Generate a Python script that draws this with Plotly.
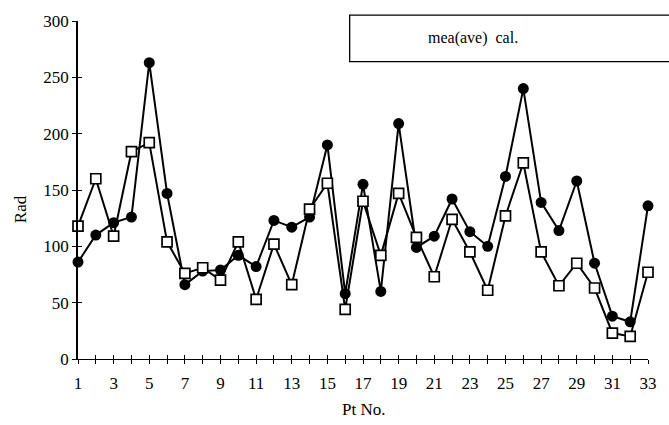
import plotly.graph_objects as go

pt = list(range(1, 34))
mea = [86, 110, 121, 126, 263, 147, 66, 78, 79, 92, 82, 123, 117, 126, 190, 58, 155,
       60, 209, 99, 109, 142, 113, 100, 162, 240, 139, 114, 158, 85, 38, 33, 136]
cal = [118, 160, 109, 184, 192, 104, 76, 81, 70, 104, 53, 102, 66, 133, 156, 44, 140,
       92, 147, 108, 73, 124, 95, 61, 127, 174, 95, 65, 85, 63, 23, 20, 77]
x_ticklabels = [str(p) if p % 2 else "" for p in pt]
y_ticks = [0, 50, 100, 150, 200, 250, 300]

FONT = "Liberation Serif, DejaVu Serif, Times New Roman, serif"

fig = go.Figure()
fig.add_trace(go.Scatter(
    x=pt, y=mea, name="mea(ave)", mode="lines+markers",
    line=dict(color="black", width=2),
    marker=dict(symbol="circle", size=11, color="black"),
    cliponaxis=False, showlegend=False, xaxis="x", yaxis="y"))
fig.add_trace(go.Scatter(
    x=pt, y=cal, name="cal.", mode="lines+markers",
    line=dict(color="black", width=2),
    marker=dict(symbol="square", size=10, color="white",
                line=dict(color="black", width=1.7)),
    cliponaxis=False, showlegend=False, xaxis="x2", yaxis="y2"))

axis_common = dict(showgrid=False, zeroline=False, tickcolor="black",
                   ticklabeloverflow="allow")
fig.update_layout(
    width=669, height=425,
    margin=dict(l=78, r=14, t=16, b=66),
    paper_bgcolor="white", plot_bgcolor="white",
    font=dict(family=FONT, color="black", size=16),
    xaxis=dict(range=[1, 33], tickvals=pt, ticktext=x_ticklabels,
               ticks="outside", ticklen=4, tickwidth=1.2, showline=True,
               linecolor="black", linewidth=1.2, ticklabelstandoff=4,
               tickfont=dict(family=FONT, size=17, color="black"), **axis_common),
    yaxis=dict(range=[0, 300], tickvals=y_ticks, ticks="outside", ticklen=4,
               tickwidth=1.2, showline=True, linecolor="black", linewidth=1.6,
               tickfont=dict(family=FONT, size=17, color="black"), **axis_common),
    xaxis2=dict(range=[1, 33], tickvals=pt, ticks="inside", ticklen=4, tickwidth=1.2,
                showticklabels=False, overlaying="x", anchor="y2", side="bottom",
                showline=False, showgrid=False, zeroline=False, tickcolor="black"),
    yaxis2=dict(range=[0, 300], tickvals=y_ticks, ticks="inside", ticklen=4,
                tickwidth=1.2, showticklabels=False, overlaying="y", anchor="x2",
                side="left", showline=False, showgrid=False, zeroline=False,
                tickcolor="black"),
    annotations=[
        dict(text="Pt No.", xref="paper", yref="paper", x=0.5, y=-0.149,
             xanchor="center", yanchor="middle", showarrow=False,
             font=dict(family=FONT, size=17, color="black")),
        dict(text="Rad", xref="paper", yref="paper", x=-0.102, y=0.443,
             xanchor="center", yanchor="middle", textangle=-90, showarrow=False,
             font=dict(family=FONT, size=17, color="black")),
        dict(text="mea(ave)  cal.", xref="paper", yref="paper", x=0.693, y=0.950,
             xanchor="center", yanchor="middle", showarrow=False,
             font=dict(family=FONT, size=16, color="black")),
    ],
    shapes=[
        dict(type="rect", xref="paper", yref="paper", x0=0.4766, x1=1.1,
             y0=0.880, y1=1.0175, line=dict(color="black", width=1.3),
             fillcolor="rgba(0,0,0,0)", layer="above"),
    ],
)

# remove the default 8px page margin so the figure fills the window exactly
fig.write_html("out.html", config={"displayModeBar": False},
               post_script="document.body.style.margin='0';")
